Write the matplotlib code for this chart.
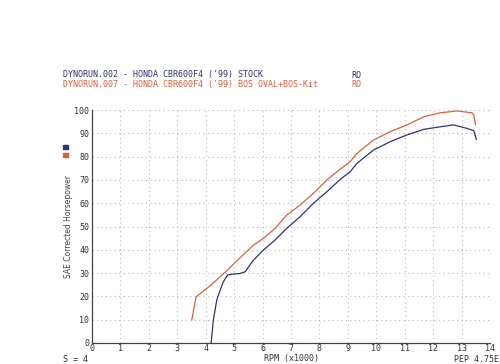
import matplotlib
matplotlib.use("Agg")
import matplotlib.pyplot as plt

stock_rpm = [4.19, 4.27, 4.39, 4.51, 4.62, 4.77, 4.98, 5.2, 5.39, 5.68, 6.03, 6.44, 6.85,
             7.32, 7.79, 8.26, 8.73, 9.08, 9.32, 9.9, 10.49, 11.08, 11.67, 12.25, 12.72,
             13.19, 13.43, 13.52]
stock_hp = [0, 9.9, 18.5, 22.7, 26.3, 29.2, 29.6, 29.8, 30.6, 35.6, 39.9, 44.2, 49.2,
            54.2, 60.0, 64.9, 70.2, 73.5, 77.1, 82.8, 86.4, 89.3, 91.7, 92.8, 93.6,
            92.1, 91.1, 87.4]

bos_rpm = [3.51, 3.66, 4.2, 4.74, 5.2, 5.68, 6.03, 6.44, 6.85, 7.32, 7.79, 8.26, 8.73,
           9.08, 9.32, 9.9, 10.49, 11.08, 11.67, 12.25, 12.84, 13.37, 13.43, 13.49]
bos_hp = [10.0, 19.8, 25.0, 31.0, 36.5, 42.0, 44.9, 49.2, 54.9, 59.2, 64.2, 70.0, 74.6,
          77.8, 81.4, 87.1, 90.7, 93.6, 97.1, 98.8, 99.6, 98.8, 97.8, 93.6]

x_ticks = list(range(0, 15))
y_ticks = list(range(0, 101, 10))

title1 = "DYNORUN.002 - HONDA CBR600F4 ('99) STOCK"
title2 = "DYNORUN.007 - HONDA CBR600F4 ('99) BOS OVAL+BOS-Kit"

BLUE = "#2e3470"
RED = "#d9603f"
MONO = "DejaVu Sans Mono"

fig = plt.figure(figsize=(5.0, 3.64), dpi=100)
ax = fig.add_axes([92/500, 1-343/364, 398/500, 233/364])

ax.plot(stock_rpm, stock_hp, color=BLUE, lw=0.9)
ax.plot(bos_rpm, bos_hp, color=RED, lw=0.9)

ax.set_xlim(0, 14)
ax.set_ylim(0, 100)
ax.set_xticks(x_ticks)
ax.set_yticks(y_ticks)
ax.set_xticklabels([str(t) for t in x_ticks], fontsize=6, family=MONO, color="#333333")
ax.set_yticklabels([str(t) for t in y_ticks], fontsize=6, family=MONO, color="#333333")
ax.tick_params(axis="x", length=0, pad=0.5)
ax.tick_params(axis="y", length=0, pad=2)
ax.grid(True, color="#b8b8b8", linestyle=(0, (1, 3)), lw=0.8)
for s in ["top", "right"]:
    ax.spines[s].set_visible(False)
for s in ["left", "bottom"]:
    ax.spines[s].set_color("#444444")
    ax.spines[s].set_linewidth(0.9)

ax.set_ylabel("SAE Corrected Horsepower", fontsize=5.5, color="#444444", labelpad=1)

fs_t = 6.0
fig.text(63/500, 1-75/364, title1, fontsize=fs_t, family=MONO, color=BLUE, va="center")
fig.text(63/500, 1-84.5/364, title2, fontsize=fs_t, family=MONO, color=RED, va="center")
fig.text(351/500, 1-75/364, "RO", fontsize=fs_t, family=MONO, color=BLUE, va="center")
fig.text(351/500, 1-84.5/364, "RO", fontsize=fs_t, family=MONO, color=RED, va="center")

fig.patches.append(plt.Rectangle((63/500, 1-149/364), 5/500, 4/364, transform=fig.transFigure,
                                 color=BLUE, figure=fig))
fig.patches.append(plt.Rectangle((63/500, 1-157/364), 5/500, 4/364, transform=fig.transFigure,
                                 color=RED, figure=fig))

fig.text(63/500, 1-359.5/364, "S = 4", fontsize=6, family=MONO, color="#333333", va="center")
fig.text(291/500, 1-359/364, "RPM (x1000)", fontsize=6, family=MONO, color="#333333",
         va="center", ha="center")
fig.text(499/500, 1-359/364, "PEP 4.75E", fontsize=6, family=MONO, color="#333333",
         va="center", ha="right")

fig.savefig("out.png", dpi=100)
